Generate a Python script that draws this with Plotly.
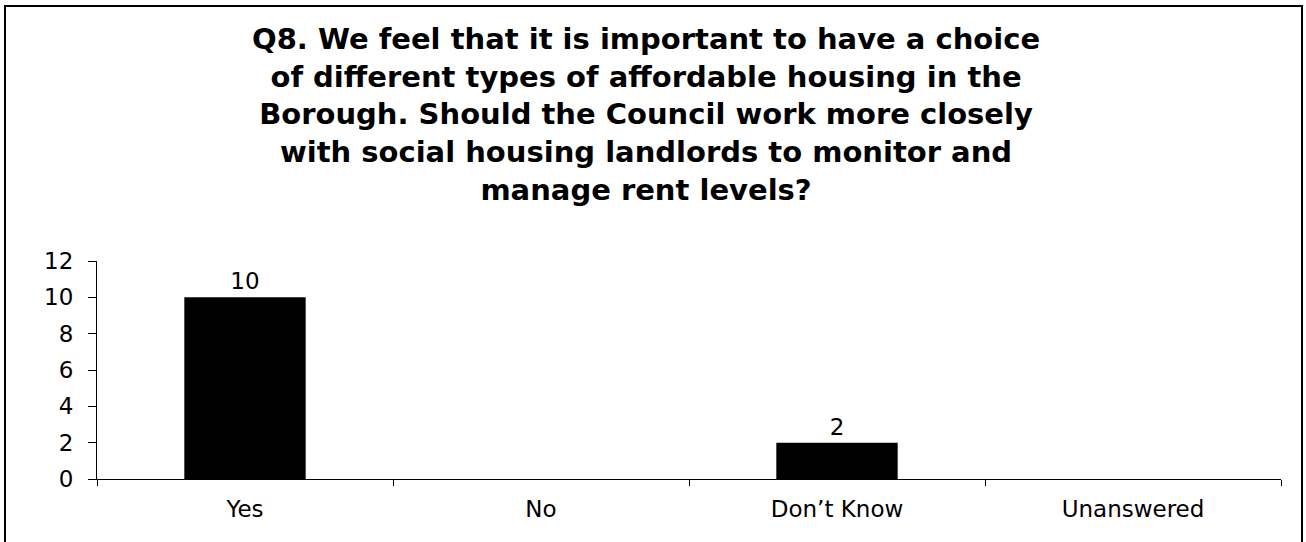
import plotly.graph_objects as go

categories = ["Yes", "No", "Don\u2019t Know", "Unanswered"]
values = [10, 0, 2, 0]
labels = ["10", "", "2", ""]
y_ticks = [0, 2, 4, 6, 8, 10, 12]
title_lines = [
    "Q8. We feel that it is important to have a choice",
    "of different types of affordable housing in the",
    "Borough. Should the Council work more closely",
    "with social housing landlords to monitor and",
    "manage rent levels?",
]

W, H = 1306, 542
L, R, T, B = 97, 25, 261, 63
pw, ph = W - L - R, H - T - B


def py(pix):
    return (H - B - pix) / ph


def px(pix):
    return (pix - L) / pw


fig = go.Figure(go.Bar(
    x=categories, y=values, text=labels, textposition="outside",
    textfont=dict(family="DejaVu Sans", size=23, color="black"),
    marker=dict(color="black", line=dict(width=0)),
    width=0.41, cliponaxis=False, hoverinfo="skip",
))

title_ann = dict(
    text="<b>" + "<br>".join(title_lines) + "</b>", xref="paper", yref="paper",
    x=px(646), y=py(114), xanchor="center", yanchor="middle",
    showarrow=False, align="center",
    font=dict(family="DejaVu Sans", size=29, color="black"),
)

fig.update_layout(
    width=W, height=H,
    margin=dict(l=L, r=R, t=T, b=B),
    paper_bgcolor="white", plot_bgcolor="white",
    font=dict(family="DejaVu Sans", size=23, color="black"),
    showlegend=False,
    annotations=[title_ann],
    xaxis=dict(showline=True, linecolor="black", linewidth=1,
               ticks="outside", tickson="boundaries", ticklen=6,
               tickcolor="black", showgrid=False, zeroline=False,
               tickfont=dict(size=23), ticklabelstandoff=9),
    yaxis=dict(range=[0, 12], tickvals=y_ticks, showline=True,
               linecolor="black", linewidth=1, ticks="outside",
               ticklen=8, tickcolor="black", showgrid=False,
               zeroline=False, tickfont=dict(size=23), ticklabelstandoff=10),
    shapes=[dict(type="rect", xref="paper", yref="paper",
                 x0=px(5), x1=px(1302), y0=py(545), y1=py(6),
                 line=dict(color="black", width=2), fillcolor="rgba(0,0,0,0)")],
)

fig.write_html("out.html", config={"displayModeBar": False},
               post_script="document.body.style.margin='0';")
